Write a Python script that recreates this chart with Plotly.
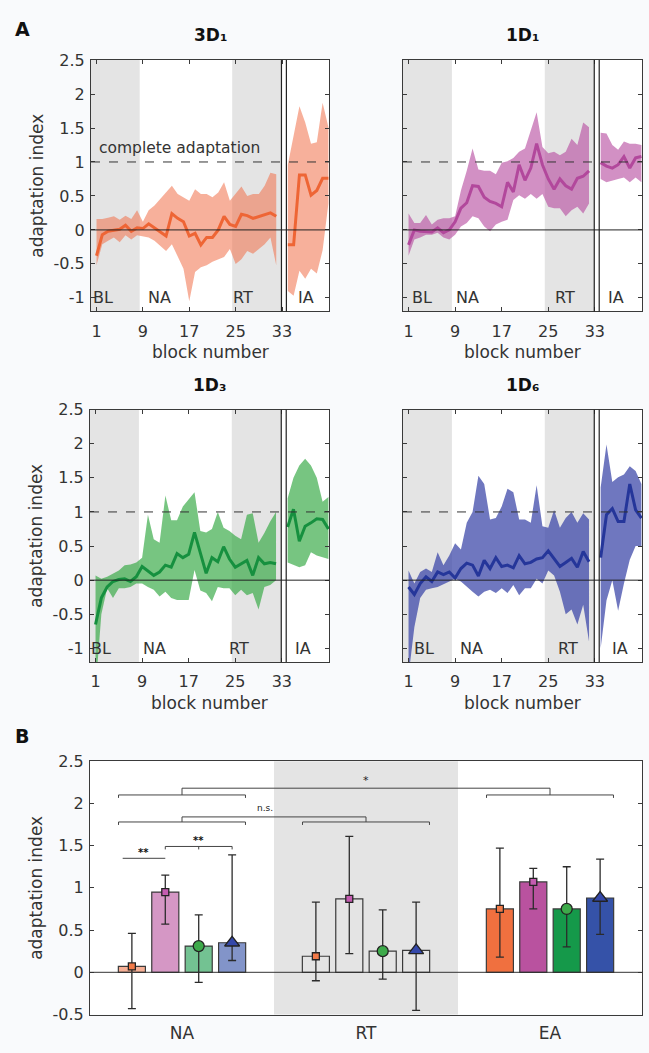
import plotly.graph_objects as go

W, H = 649, 1053

# ---------------- Panel A data ----------------
blocks_main = list(range(1, 33))
blocks_ia = list(range(34, 42))

# 3D1
d31_mean = [-0.38, -0.07, -0.02, -0.005, 0.01, 0.07, -0.02, 0.03, 0.02, 0.09, 0.03, -0.04, -0.09, 0.24, 0.17, 0.12,
            -0.09, -0.05, -0.22, -0.11, -0.11, 0.0, 0.2, 0.08, 0.05, 0.23, 0.21, 0.17, 0.2, 0.22, 0.25, 0.2]
d31_upper = [0.16, 0.16, 0.18, 0.2, 0.15, 0.21, 0.16, 0.29, 0.12, 0.29, 0.36, 0.46, 0.55, 0.65, 0.53, 0.48,
             0.43, 0.6, 0.53, 0.53, 0.48, 0.55, 0.7, 0.43, 0.53, 0.64, 0.5, 0.53, 0.53, 0.65, 0.84, 0.82]
d31_lower = [-0.52, -0.21, -0.16, -0.11, -0.18, -0.08, -0.14, -0.08, -0.09, -0.11, -0.16, -0.23, -0.31, -0.21, -0.38, -0.57,
             -1.05, -0.62, -0.55, -0.52, -0.47, -0.43, -0.40, -0.28, -0.5, -0.43, -0.31, -0.35, -0.28, -0.21, -0.11, -0.52]
d31_ia_mean = [-0.22, -0.22, 0.81, 0.81, 0.51, 0.58, 0.76, 0.76]
d31_ia_upper = [0.96, 1.39, 1.82, 1.58, 1.27, 1.29, 1.87, 1.51]
d31_ia_lower = [-0.9, -0.97, -0.6, -0.72, -0.57, -0.64, -0.3, 0.39]

# 1D1
d11_mean = [-0.22, 0.0, -0.02, -0.03, -0.03, 0.03, -0.04, 0.0, 0.12, 0.32, 0.4, 0.65, 0.64, 0.48, 0.42, 0.39,
            0.34, 0.7, 0.56, 0.96, 0.73, 0.91, 1.27, 0.96, 0.75, 0.6, 0.75, 0.65, 0.6, 0.76, 0.79, 0.87]
d11_upper = [0.24, 0.1, 0.1, 0.22, 0.08, 0.15, 0.17, 0.17, 0.2, 0.58, 0.87, 1.2, 0.89, 0.87, 0.87, 0.82,
             0.99, 1.01, 1.06, 1.15, 1.2, 1.46, 1.73, 1.22, 1.13, 1.15, 1.1, 1.15, 1.34, 1.25, 1.58, 1.51]
d11_lower = [-0.38, -0.14, -0.11, -0.07, -0.07, -0.04, -0.11, -0.14, -0.07, 0.05, 0.1, 0.2, 0.17, 0.05, -0.02, 0.08,
             0.12, 0.15, 0.44, 0.51, 0.46, 0.53, 0.46, 0.53, 0.34, 0.32, 0.32, 0.2, 0.29, 0.34, 0.24, 0.39]
d11_ia_mean = [0.99, 0.94, 0.91, 0.96, 1.08, 0.91, 1.06, 1.08]
d11_ia_upper = [1.43, 1.42, 1.25, 1.18, 1.3, 1.27, 1.27, 1.25]
d11_ia_lower = [0.75, 0.7, 0.72, 0.75, 0.77, 0.7, 0.77, 0.7]

# 1D3
d13_mean = [-0.65, -0.26, -0.1, -0.02, 0.01, 0.02, -0.02, 0.05, 0.2, 0.14, 0.07, 0.12, 0.22, 0.19, 0.39, 0.33,
            0.38, 0.7, 0.41, 0.1, 0.33, 0.27, 0.49, 0.31, 0.19, 0.24, 0.29, 0.07, 0.33, 0.24, 0.26, 0.24]
d13_upper = [0.07, 0.02, 0.05, 0.1, 0.14, 0.22, 0.23, 0.26, 0.33, 0.96, 0.6, 0.55, 1.24, 0.88, 0.88, 1.08,
             1.18, 1.29, 0.72, 0.7, 0.75, 1.0, 0.77, 0.72, 0.65, 0.6, 0.96, 0.98, 0.55, 0.69, 0.86, 1.0]
d13_lower = [-1.6, -0.5, -0.12, -0.26, -0.12, -0.12, -0.1, -0.05, -0.05, -0.1, -0.14, -0.24, -0.17, -0.26, -0.29, -0.29,
             -0.29, 0.15, -0.15, -0.19, -0.31, -0.1, -0.12, -0.12, -0.22, -0.14, -0.22, -0.19, -0.43, -0.1, -0.07, 0.0]
d13_ia_mean = [0.78, 1.04, 0.57, 0.79, 0.84, 0.9, 0.89, 0.75]
d13_ia_upper = [1.2, 1.5, 1.68, 1.78, 1.68, 1.5, 1.15, 1.22]
d13_ia_lower = [0.26, 0.22, 0.19, 0.22, 0.41, 0.36, 0.33, 0.31]

# 1D6
d16_mean = [-0.1, -0.21, -0.05, 0.05, -0.02, 0.12, 0.08, 0.12, 0.03, 0.17, 0.25, 0.22, 0.06, 0.29, 0.17, 0.33,
            0.2, 0.22, 0.18, 0.36, 0.24, 0.26, 0.31, 0.33, 0.43, 0.31, 0.2, 0.26, 0.32, 0.19, 0.42, 0.27]
d16_upper = [0.14, -0.05, 0.12, 0.17, 0.12, 0.41, 0.22, 0.36, 0.54, 0.45, 0.84, 1.0, 1.53, 1.41, 0.89, 0.91,
             1.08, 1.34, 1.29, 0.89, 0.89, 0.84, 1.39, 0.79, 0.77, 1.03, 0.77, 0.91, 1.0, 0.84, 0.98, 0.89]
d16_lower = [-1.4, -0.69, -0.26, -0.14, -0.12, -0.1, -0.05, -0.02, 0.02, -0.02, -0.1, -0.17, -0.24, -0.17, -0.14, -0.19,
             -0.12, -0.19, -0.07, -0.22, -0.12, -0.12, 0.02, -0.05, 0.14, 0.07, -0.17, -0.5, -0.43, -0.65, -0.36, -0.9]
d16_ia_mean = [0.33, 0.96, 1.05, 0.86, 0.86, 1.41, 1.03, 0.91]
d16_ia_upper = [1.36, 1.99, 1.44, 1.51, 1.55, 1.67, 1.6, 1.41]
d16_ia_lower = [-1.0, -0.3, 0.0, -0.45, -0.05, 0.3, 0.5, 0.5]

panel_titles = ["3D₁", "1D₁", "1D₃", "1D₆"]
phase_names = ["BL", "NA", "RT", "IA"]
phase_label_x = [[2.2, 11.8, 26.3, 37.2], [3.3, 11.2, 27.8, 36.6], [1.9, 11.2, 25.6, 36.6], [3.7, 11.9, 28.4, 37.3]]
bl_band = [0.0, 8.45]
rt_band = [24.4, 32.9]
divider_blocks = [32.9, 33.75]
x_ticks = [1, 9, 17, 25, 33]
y_ticks = [2.5, 2, 1.5, 1, 0.5, 0, -0.5, -1]
y_ticktext = ["2.5", "2", "1.5", "1", "0.5", "0", "-0.5", "-1"]

line_cols = ["#EE6535", "#B2489C", "#16903F", "#25369A"]
band_cols = ["rgba(241,112,72,0.55)", "rgba(182,76,160,0.62)", "rgba(55,170,70,0.68)", "rgba(55,66,166,0.72)"]

series_data = [
    (d31_mean, d31_upper, d31_lower, d31_ia_mean, d31_ia_upper, d31_ia_lower),
    (d11_mean, d11_upper, d11_lower, d11_ia_mean, d11_ia_upper, d11_ia_lower),
    (d13_mean, d13_upper, d13_lower, d13_ia_mean, d13_ia_upper, d13_ia_lower),
    (d16_mean, d16_upper, d16_lower, d16_ia_mean, d16_ia_upper, d16_ia_lower),
]

# ---------------- Panel B data ----------------
groups = ["NA", "RT", "EA"]
series_names = ["3D1", "1D1", "1D3", "1D6"]
b_mean = {"3D1": [0.07, 0.19, 0.75], "1D1": [0.95, 0.87, 1.07], "1D3": [0.31, 0.25, 0.75], "1D6": [0.35, 0.26, 0.88]}
b_hi = {"3D1": [0.46, 0.83, 1.47], "1D1": [1.15, 1.61, 1.23], "1D3": [0.68, 0.74, 1.25], "1D6": [1.39, 0.83, 1.34]}
b_lo = {"3D1": [-0.43, -0.10, 0.18], "1D1": [0.57, 0.22, 0.75], "1D3": [-0.12, -0.08, 0.30], "1D6": [0.14, -0.45, 0.45]}
b_full = ["#F0703F", "#B9529F", "#15994A", "#3552A8"]
b_light = ["rgba(240,112,63,0.55)", "rgba(185,82,159,0.6)", "rgba(21,153,74,0.6)", "rgba(53,82,168,0.62)"]
b_marker_col = ["#F27A48", "#C45CB0", "#3DAA4A", "#3448AA"]
b_symbols = ["square", "square", "circle", "triangle-up"]
b_sizes = [7, 7, 11, 13]
# between-group comparisons: (group A, group B, label, bracket level, connector level)
group_sig = [("NA", "EA", "*", 2.10, 2.18), ("NA", "RT", "n.s.", 1.78, 1.84)]
# within-group comparisons: (group, bar i, bar j, label, level)
within_sig = [("NA", 0, 1, "**", 1.35), ("NA", 1, 3, "**", 1.49)]

# ---------------- layout geometry ----------------
dom_x = [[91 / W, 329 / W], [403 / W, 642 / W], [90 / W, 329 / W], [403 / W, 642 / W]]
dom_y = [[1 - 308 / H, 1 - 52 / H], [1 - 308 / H, 1 - 52 / H], [1 - 665 / H, 1 - 408 / H], [1 - 665 / H, 1 - 408 / H]]
domB_x = [90 / W, 642 / W]
domB_y = [1 - 1024 / H, 1 - 766 / H]

FONT = "DejaVu Sans, Arial, sans-serif"
TXT = "#333333"
AX = "#3a3a3a"

fig = go.Figure()
shapes = []
annotations = []

for k in range(4):
    n = k + 1
    xr, yr = ("x" if n == 1 else f"x{n}"), ("y" if n == 1 else f"y{n}")
    mean, up, lo, ia_m, ia_u, ia_l = series_data[k]
    for bx, m, u, l in ((blocks_main, mean, up, lo), (blocks_ia, ia_m, ia_u, ia_l)):
        fig.add_trace(go.Scatter(x=bx + bx[::-1], y=u + l[::-1], fill="toself", fillcolor=band_cols[k],
                                 line=dict(width=0), mode="lines", xaxis=xr, yaxis=yr, showlegend=False,
                                 hoverinfo="skip"))
        fig.add_trace(go.Scatter(x=bx, y=m, mode="lines", line=dict(color=line_cols[k], width=3),
                                 xaxis=xr, yaxis=yr, showlegend=False))
    for b0, b1 in (bl_band, rt_band):
        shapes.append(dict(type="rect", xref=xr, yref=f"{yr} domain", x0=b0, x1=b1, y0=0, y1=1,
                           fillcolor="#e4e4e4", line=dict(width=0), layer="below"))
    shapes.append(dict(type="line", xref=f"{xr} domain", yref=yr, x0=0, x1=1, y0=1, y1=1,
                       line=dict(color="#333", width=1, dash="dash"), layer="above"))
    shapes.append(dict(type="line", xref=f"{xr} domain", yref=yr, x0=0, x1=1, y0=0, y1=0,
                       line=dict(color="#222", width=1), layer="above"))
    for d in divider_blocks:
        shapes.append(dict(type="line", xref=xr, yref=f"{yr} domain", x0=d, x1=d, y0=0, y1=1,
                           line=dict(color="#222", width=1.2), layer="above"))
    for name, px in zip(phase_names, phase_label_x[k]):
        annotations.append(dict(x=px, y=-1.0, xref=xr, yref=yr, text=name, showarrow=False,
                                font=dict(size=16, color=TXT, family=FONT)))
    annotations.append(dict(x=0.5, y=1, xref=f"{xr} domain", yref=f"{yr} domain", text=panel_titles[k],
                            showarrow=False, yanchor="bottom", yshift=13,
                            font=dict(size=17, color="#111", family=FONT, weight="bold")))
    annotations.append(dict(x=0.5, y=0, xref=f"{xr} domain", yref=f"{yr} domain", text="block number",
                            showarrow=False, yanchor="middle", yshift=-41, font=dict(size=17, color=TXT, family=FONT)))
    if k in (0, 2):
        annotations.append(dict(x=0, y=0.5, xref=f"{xr} domain", yref=f"{yr} domain", text="adaptation index",
                                textangle=-90, showarrow=False, xanchor="center", xshift=-54,
                                font=dict(size=17, color=TXT, family=FONT)))
    xa = dict(domain=dom_x[k], range=[0.05, 41.1], tickvals=x_ticks, ticks="inside", ticklen=4, tickcolor=AX,
              showline=True, linecolor=AX, linewidth=1, mirror="ticks", showgrid=False, zeroline=False,
              tickfont=dict(size=16, color=TXT, family=FONT), anchor=yr, ticklabelstandoff=5)
    ya = dict(domain=dom_y[k], range=[-1.2, 2.5], tickvals=y_ticks, ticktext=y_ticktext, ticks="inside", ticklen=4,
              tickcolor=AX, showline=True, linecolor=AX, linewidth=1, mirror="ticks", showgrid=False,
              zeroline=False, showticklabels=(k in (0, 2)), tickfont=dict(size=16, color=TXT, family=FONT),
              anchor=xr, ticklabelstandoff=2)
    fig.layout["xaxis" if n == 1 else f"xaxis{n}"] = xa
    fig.layout["yaxis" if n == 1 else f"yaxis{n}"] = ya

# ---------------- Panel B ----------------
group_pos = [1, 2, 3]
bargap = 0.2736
slot = (1 - bargap) / len(series_names)
for i, s in enumerate(series_names):
    fig.add_trace(go.Bar(x=group_pos, y=b_mean[s], xaxis="x5", yaxis="y5", offsetgroup=str(i),
                         marker=dict(color=[b_light[i], "rgba(0,0,0,0)", b_full[i]],
                                     line=dict(color="#3a3a3a", width=1.2)), showlegend=False))
for i, s in enumerate(series_names):
    xs = [g + (i - 1.5) * slot for g in group_pos]
    fig.add_trace(go.Scatter(x=xs, y=b_mean[s], mode="markers", xaxis="x5", yaxis="y5", showlegend=False,
                             marker=dict(symbol=b_symbols[i], size=b_sizes[i], color=b_marker_col[i],
                                         line=dict(color="#222", width=1.3)),
                             error_y=dict(type="data", symmetric=False,
                                          array=[h - m for h, m in zip(b_hi[s], b_mean[s])],
                                          arrayminus=[m - l for m, l in zip(b_mean[s], b_lo[s])],
                                          color="#2b2b2b", thickness=1.3, width=4)))

shapes.append(dict(type="rect", xref="x5", yref="y5 domain", x0=1.5, x1=2.5, y0=0, y1=1,
                   fillcolor="#e4e4e4", line=dict(width=0), layer="below"))
shapes.append(dict(type="line", xref="x5 domain", yref="y5", x0=0, x1=1, y0=0, y1=0,
                   line=dict(color="#333", width=1), layer="above"))

BR = dict(color="#444", width=1)
half = 0.345
tick = 0.035
gx = {g: p for g, p in zip(groups, group_pos)}
for ga, gb, lab, lev, con in group_sig:
    for g in (ga, gb):
        c = gx[g]
        shapes.append(dict(type="path", xref="x5", yref="y5",
                           path=f"M {c - half},{lev - tick} L {c - half},{lev} L {c + half},{lev} L {c + half},{lev - tick}",
                           line=BR))
        shapes.append(dict(type="line", xref="x5", yref="y5", x0=c, x1=c, y0=lev, y1=con, line=BR))
    shapes.append(dict(type="line", xref="x5", yref="y5", x0=gx[ga], x1=gx[gb], y0=con, y1=con, line=BR))
    annotations.append(dict(x=(gx[ga] + gx[gb]) / 2 - (0.05 if lab == "n.s." else 0), y=con, xref="x5", yref="y5",
                            text=lab, showarrow=False, yanchor="bottom", yshift=2 if lab != "*" else -1,
                            font=dict(size=9 if lab != "*" else 11, color="#222", family=FONT)))
for g, i, j, lab, lev in within_sig:
    c = gx[g]
    xi, xj = c + (i - 1.5) * slot, c + (j - 1.5) * slot
    if j - i == 1:
        shapes.append(dict(type="line", xref="x5", yref="y5", x0=xi - 0.05, x1=xj, y0=lev, y1=lev, line=BR))
        mid = (xi - 0.05 + xj) / 2
    else:
        shapes.append(dict(type="path", xref="x5", yref="y5",
                           path=f"M {xi},{lev - tick} L {xi},{lev} L {xj},{lev} L {xj},{lev - tick}", line=BR))
        mid = (xi + xj) / 2
        shapes.append(dict(type="line", xref="x5", yref="y5", x0=mid, x1=mid, y0=lev, y1=lev - tick, line=BR))
    annotations.append(dict(x=mid, y=lev, xref="x5", yref="y5", text=lab, showarrow=False,
                            yanchor="bottom", yshift=-2, font=dict(size=10, color="#111", family=FONT, weight="bold")))

annotations.append(dict(x=0, y=0.5, xref="x5 domain", yref="y5 domain", text="adaptation index", textangle=-90,
                        showarrow=False, xanchor="center", xshift=-54, font=dict(size=17, color=TXT, family=FONT)))
annotations.append(dict(x=13 / W, y=1 - 20 / H, xref="paper", yref="paper", text="A", showarrow=False,
                        xanchor="left", yanchor="middle", font=dict(size=19, color="#111", family=FONT, weight="bold")))
annotations.append(dict(x=13 / W, y=1 - 740 / H, xref="paper", yref="paper", text="B", showarrow=False,
                        xanchor="left", yanchor="middle", font=dict(size=19, color="#111", family=FONT, weight="bold")))
annotations.append(dict(x=15.3, y=1.0, xref="x", yref="y", text="complete adaptation", showarrow=False,
                        yanchor="bottom", yshift=3, font=dict(size=15.5, color=TXT, family=FONT)))

fig.update_layout(
    xaxis5=dict(domain=domB_x, range=[0.5, 3.5], tickvals=group_pos, ticktext=groups, ticks="",
                showline=True, linecolor=AX, linewidth=1, mirror=True, showgrid=False, zeroline=False,
                tickfont=dict(size=17, color=TXT, family=FONT), anchor="y5", ticklabelstandoff=3),
    yaxis5=dict(domain=domB_y, range=[-0.5, 2.5], tickvals=[-0.5, 0, 0.5, 1, 1.5, 2, 2.5],
                ticktext=["-0.5", "0", "0.5", "1", "1.5", "2", "2.5"], ticks="inside", ticklen=4, tickcolor=AX,
                showline=True, linecolor=AX, linewidth=1, mirror="ticks", showgrid=False, zeroline=False,
                tickfont=dict(size=16, color=TXT, family=FONT), anchor="x5", ticklabelstandoff=2),
    barmode="group", bargap=bargap, bargroupgap=0.19,
    shapes=shapes, annotations=annotations,
    width=W, height=H, autosize=False, margin=dict(l=0, r=0, t=0, b=0),
    paper_bgcolor="#f9fafc", plot_bgcolor="white", showlegend=False,
    font=dict(family=FONT, color=TXT),
)

fig.write_html("out.html", config={"displayModeBar": False},
               post_script="document.body.style.margin='0';document.body.style.overflow='hidden';"
                           "document.documentElement.style.overflow='hidden';")
